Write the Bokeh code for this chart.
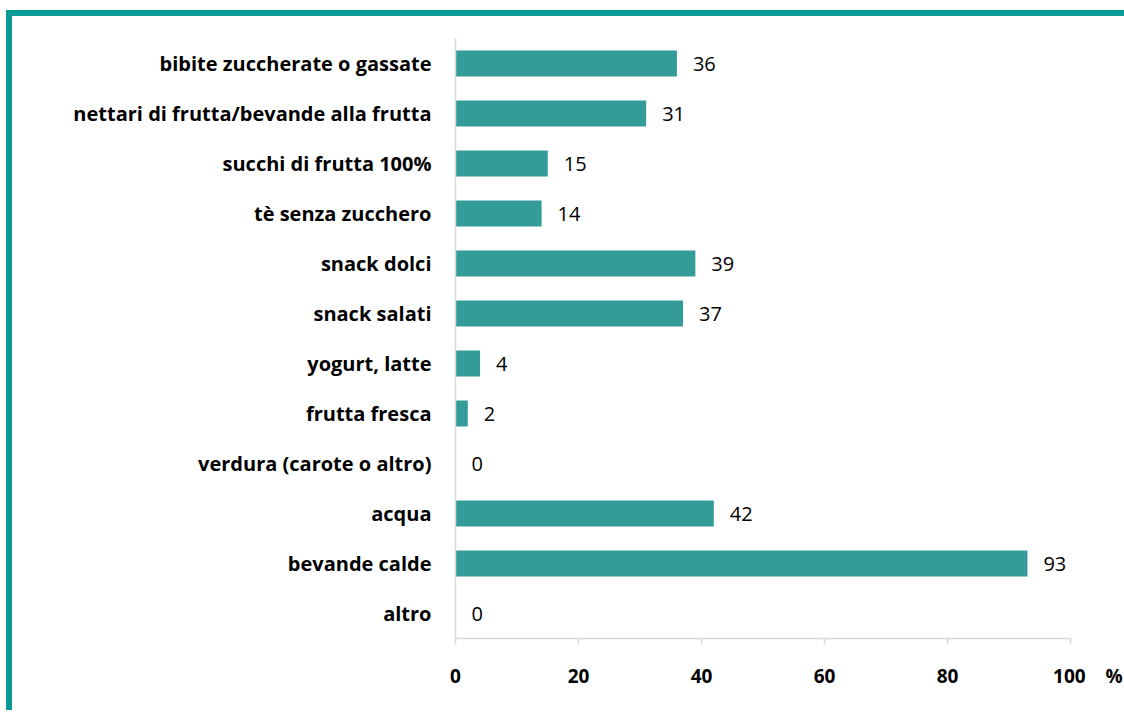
from bokeh.plotting import figure
from bokeh.models import ColumnDataSource, LabelSet, FixedTicker
from bokeh.core.properties import value
from bokeh.embed import file_html
from bokeh.resources import INLINE

categories = [
    "bibite zuccherate o gassate",
    "nettari di frutta/bevande alla frutta",
    "succhi di frutta 100%",
    "tè senza zucchero",
    "snack dolci",
    "snack salati",
    "yogurt, latte",
    "frutta fresca",
    "verdura (carote o altro)",
    "acqua",
    "bevande calde",
    "altro",
]
values = [36, 31, 15, 14, 39, 37, 4, 2, 0, 42, 93, 0]
x_ticks = [0, 20, 40, 60, 80, 100]
unit_label = "%"

FONT = "Open Sans"
BAR = "#339b98"
FRAME = "#0a9a96"
GREY = "#d9d9d9"
NB = "\u00a0"

src = ColumnDataSource(dict(cat=categories, val=values, lab=[str(v) for v in values]))

p = figure(
    width=1118, height=700,
    y_range=list(reversed(categories)),
    x_range=(0, 100),
    output_backend="svg", toolbar_location=None,
    min_border_left=443, min_border_right=60, min_border_top=22, min_border_bottom=78,
)
p.styles = {
    "border-left": f"6px solid {FRAME}",
    "border-top": f"6px solid {FRAME}",
    "margin-left": "6px",
    "margin-top": "10px",
}
p.outline_line_color = None
p.grid.grid_line_color = None
p.background_fill_color = "white"

p.hbar(y="cat", right="val", left=0, height=0.52, source=src, color=BAR, line_color=None)

labels = LabelSet(x="val", y="cat", text="lab", source=src, x_offset=16,
                  text_baseline="middle", text_align="left",
                  text_font=value(FONT), text_font_size="20px", text_color="#000000")
p.add_layout(labels)

# x axis
p.xaxis.ticker = FixedTicker(ticks=x_ticks)
last = x_ticks[-1]
p.xaxis.major_label_overrides = {last: NB * 7 + str(last) + NB * 4 + unit_label}
p.xaxis.axis_line_color = GREY
p.xaxis.axis_line_width = 1.5
p.xaxis.major_tick_line_color = GREY
p.xaxis.major_tick_line_width = 1.5
p.xaxis.major_tick_out = 6
p.xaxis.major_tick_in = 0
p.xaxis.minor_tick_line_color = None
p.xaxis.major_label_text_font = FONT
p.xaxis.major_label_text_font_style = "bold"
p.xaxis.major_label_text_font_size = "19px"
p.xaxis.major_label_text_color = "#000000"
p.xaxis.major_label_standoff = 18

# y axis
p.yaxis.axis_line_color = GREY
p.yaxis.axis_line_width = 1.5
p.yaxis.major_tick_line_color = None
p.yaxis.minor_tick_line_color = None
p.yaxis.major_label_text_font = FONT
p.yaxis.major_label_text_font_style = "bold"
p.yaxis.major_label_text_font_size = "20px"
p.yaxis.major_label_text_color = "#000000"
p.yaxis.major_label_standoff = 18

open("out.html", "w").write(file_html(p, INLINE))
